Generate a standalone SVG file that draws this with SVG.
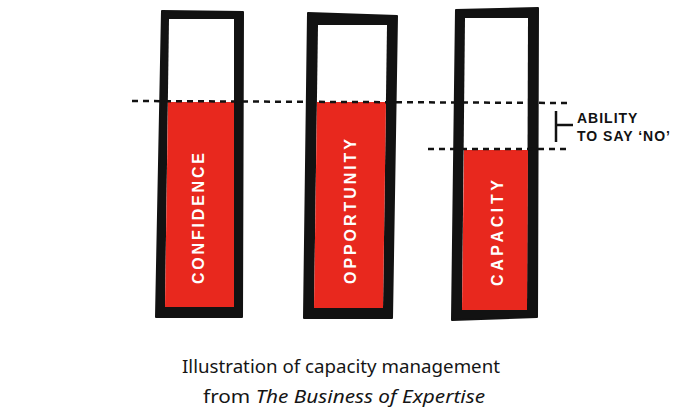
<svg xmlns="http://www.w3.org/2000/svg" width="700" height="417" viewBox="0 0 700 417">
<style>
.frame{fill:#121212;stroke:#121212;stroke-width:2;stroke-linejoin:round}
.inner{fill:#ffffff}
.fill{fill:#e8281e}
.lbl{font-family:"Liberation Sans",Arial,sans-serif;font-weight:bold;font-size:16px;fill:#ffffff}
.dash{stroke:#121212;stroke-width:2.5;stroke-dasharray:6 5;fill:none}
.note{font-family:"Liberation Sans",Arial,sans-serif;font-weight:bold;font-size:14px;fill:#121212;letter-spacing:1px}
.cap{font-family:"Noto Sans",sans-serif;font-size:18px;fill:#151515}
</style>
<rect width="700" height="417" fill="#ffffff"/>
<g id="confidence">
<path class="frame" d="M162,11 L243,12 L242,317 L156,317 Z"/>
<path class="inner" d="M169,19 L234,19 L234,307 L165,307 Z"/>
<path class="fill" d="M168,102 L234,102 L234,307 L165,307 Z"/>
<text class="lbl" transform="translate(204,284) rotate(-90)" textLength="131" lengthAdjust="spacing">CONFIDENCE</text>
</g>
<g id="opportunity">
<path class="frame" d="M308,13 L397,16 L392,318 L304,318 Z"/>
<path class="inner" d="M318,25 L387,25 L383,308 L314,308 Z"/>
<path class="fill" d="M317,102 L386,102 L383,308 L314,308 Z"/>
<text class="lbl" transform="translate(356,284) rotate(-90)" textLength="145" lengthAdjust="spacing">OPPORTUNITY</text>
</g>
<g id="capacity">
<path class="frame" d="M456,10 L538,8 L537,317 L452,320 Z"/>
<path class="inner" d="M465,18 L528,18 L527,310 L462,310 Z"/>
<path class="fill" d="M464,150 L528,150 L527,310 L462,310 Z"/>
<text class="lbl" transform="translate(503,286) rotate(-90)" textLength="106" lengthAdjust="spacing">CAPACITY</text>
</g>
<g id="connectors">
<line class="dash" x1="132" y1="101" x2="570" y2="103"/>
<line class="dash" x1="428" y1="149" x2="568" y2="149"/>
<line x1="556" y1="111" x2="556" y2="142" stroke="#121212" stroke-width="2.5"/>
<line x1="556" y1="125" x2="573" y2="125" stroke="#121212" stroke-width="2.5"/>
</g>
<g id="ability">
<text class="note" x="577" y="123">ABILITY</text>
<text class="note" x="577" y="141">TO SAY ‘NO’</text>
</g>
<g id="caption">
<text class="cap" x="182" y="373" textLength="318" lengthAdjust="spacingAndGlyphs">Illustration of capacity management</text>
<text class="cap" x="203" y="403" textLength="282" lengthAdjust="spacingAndGlyphs">from <tspan font-style="italic">The Business of Expertise</tspan></text>
</g>
</svg>
